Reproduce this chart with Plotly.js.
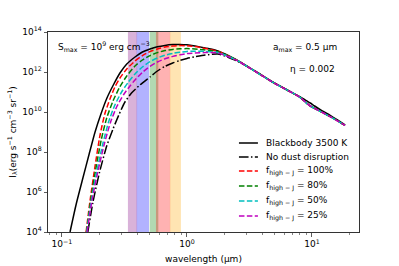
<!DOCTYPE html>
<html><head><meta charset="utf-8">
<script src="https://cdn.plot.ly/plotly-3.0.1.min.js"></script>
<style>html,body{margin:0;padding:0;background:#fff}#chart{width:399px;height:266px}</style>
</head><body><div id="chart"></div>
<script>
// ---- data (wavelength in micron, log10 of I_lambda) ----
const bbWl  = [0.116,0.13,0.147,0.165,0.184,0.205,0.229,0.26,0.291,0.33,0.384,0.44,0.506,0.58,0.667,0.77,0.879,1.0,1.159,1.4,1.77,2.5,3.5,5,6.5,8,9,9.7,10.5,12,14,16,18.4];
const bbLog = [4.0,5.4,6.7,7.9,9.0,9.9,10.7,11.4,11.95,12.4,12.75,13.0,13.15,13.26,13.33,13.37,13.38,13.36,13.3,13.2,13.05,12.6,12.05,11.45,11.07,10.77,10.57,10.45,10.3,10.07,9.83,9.6,9.35];

const tailWl  = [3.5,5,6.5,8,9,9.7,10.5,12,14,16,18.4];
const tailLog = [12.04,11.44,11.06,10.74,10.46,10.3,10.18,9.99,9.77,9.56,9.33];

const noDisWl  = [0.161,0.177,0.2,0.228,0.256,0.285,0.319,0.36,0.42,0.506,0.58,0.667,0.77,0.879,1.0,1.159,1.4,1.77,2.5];
const noDisLog = [4.0,5.5,7.0,8.3,9.15,9.85,10.5,10.95,11.35,11.75,12.05,12.28,12.45,12.58,12.68,12.76,12.85,12.9,12.56];

const f100Wl  = [0.156,0.168,0.184,0.201,0.22,0.242,0.265,0.291,0.33,0.384,0.44,0.506,0.58,0.667,0.77,0.879,1.0,1.159,1.4,1.77,2.5];
const f100Log = [4.0,5.6,7.3,8.8,9.9,10.65,11.25,11.7,12.15,12.55,12.82,13.02,13.15,13.25,13.3,13.32,13.31,13.27,13.18,13.04,12.6];

const f80Wl  = [0.157,0.17,0.187,0.206,0.228,0.256,0.29,0.33,0.384,0.44,0.506,0.58,0.667,0.77,0.879,1.0,1.159,1.4,1.77,2.5];
const f80Log = [4.0,5.6,7.2,8.6,9.7,10.55,11.25,11.8,12.3,12.6,12.82,12.97,13.07,13.13,13.16,13.17,13.15,13.1,13.01,12.6];

const f50Wl  = [0.158,0.172,0.191,0.212,0.236,0.265,0.3,0.34,0.384,0.44,0.506,0.58,0.667,0.77,0.879,1.0,1.159,1.4,1.77,2.5];
const f50Log = [4.0,5.6,7.1,8.4,9.5,10.35,11.0,11.5,11.9,12.25,12.52,12.7,12.84,12.93,12.99,13.03,13.04,13.03,12.98,12.59];

const f25Wl  = [0.159,0.174,0.195,0.218,0.245,0.276,0.31,0.35,0.384,0.44,0.506,0.58,0.667,0.77,0.879,1.0,1.159,1.4,1.77,2.5];
const f25Log = [4.0,5.6,7.1,8.4,9.5,10.3,10.85,11.3,11.6,11.98,12.28,12.5,12.66,12.78,12.86,12.92,12.95,12.97,12.95,12.58];

// photometric bands (micron)
const bandLo     = [0.337,0.396,0.503,0.565,0.73];
const bandHi     = [0.399,0.497,0.59,0.735,0.895];
const bandColors = ['rgba(128,0,128,0.3)','rgba(0,0,255,0.3)','rgba(0,128,0,0.3)','rgba(255,0,0,0.3)','rgba(255,165,0,0.3)'];

const seriesNames = ['Blackbody 3500 K','No dust disruption','f<sub>high − J</sub> = 100%','f<sub>high − J</sub> = 80%','f<sub>high − J</sub> = 50%','f<sub>high − J</sub> = 25%'];
const seriesColors = ['#000000','#000000','#ff0000','#008000','#00bfbf','#bf00bf'];
const seriesDash = ['solid','9.6px,2.4px,1.5px,2.4px','5.5px,2.4px','5.5px,2.4px','5.5px,2.4px','5.5px,2.4px'];

const xTickVals = [0.1,1,10];
const xTickText = ['10<sup>−1</sup>','10<sup>0</sup>','10<sup>1</sup>'];
const yTickVals = [1e4,1e6,1e8,1e10,1e12,1e14];
const yTickText = ['10<sup>4</sup>','10<sup>6</sup>','10<sup>8</sup>','10<sup>10</sup>','10<sup>12</sup>','10<sup>14</sup>'];
const xMinor = [0.08,0.09,0.2,0.3,0.4,0.5,0.6,0.7,0.8,0.9,2,3,4,5,6,7,8,9,20];

// ---- build ----
const pw = v => Math.pow(10, v);
const withTail = (wl, lg) => [wl.concat(tailWl), lg.concat(tailLog).map(pw)];

const sets = [
  [bbWl, bbLog.map(pw)],
  withTail(noDisWl, noDisLog),
  withTail(f100Wl, f100Log),
  withTail(f80Wl, f80Log),
  withTail(f50Wl, f50Log),
  withTail(f25Wl, f25Log)
];
const traces = sets.map((s, i) => ({
  x: s[0], y: s[1], type: 'scatter', mode: 'lines', name: seriesNames[i],
  line: {color: seriesColors[i], width: 1.5, dash: seriesDash[i], shape: 'spline', smoothing: 0.6},
  hoverinfo: 'skip'
}));

const shapes = bandLo.map((lo, i) => ({
  type: 'rect', xref: 'x', yref: 'paper', x0: lo, x1: bandHi[i], y0: 0, y1: 1,
  fillcolor: bandColors[i], line: {width: 0}, layer: 'below'
}));

// legend (drawn manually to match compact spacing)
const legRows = [0.445, 0.375, 0.305, 0.23, 0.155, 0.08];
const annotations = [];
legRows.forEach((yy, i) => {
  shapes.push({type: 'line', xref: 'paper', yref: 'paper', x0: 0.614, x1: 0.675, y0: yy, y1: yy,
    line: {color: seriesColors[i], width: 1.5, dash: seriesDash[i]}});
  annotations.push({xref: 'paper', yref: 'paper', x: 0.695, y: yy, xanchor: 'left', yanchor: 'middle',
    text: seriesNames[i], showarrow: false, font: {size: 9}});
});
annotations.push({xref: 'paper', yref: 'paper', x: 0.027, y: 0.925, xanchor: 'left', yanchor: 'middle',
  text: 'S<sub>max</sub> = 10<sup>9</sup> erg cm<sup>−3</sup>', showarrow: false, font: {size: 9}});
annotations.push({xref: 'paper', yref: 'paper', x: 0.935, y: 0.92, xanchor: 'right', yanchor: 'middle',
  text: 'a<sub>max</sub> = 0.5 μm', showarrow: false, font: {size: 9}});
annotations.push({xref: 'paper', yref: 'paper', x: 0.928, y: 0.815, xanchor: 'right', yanchor: 'middle',
  text: 'η = 0.002', showarrow: false, font: {size: 9}});

const axisCommon = {
  showgrid: false, zeroline: false, showline: true, linecolor: '#333', linewidth: 1, mirror: true,
  ticks: 'outside', ticklen: 3.5, tickwidth: 0.8, tickcolor: '#333', tickfont: {size: 9}
};

const layout = {
  width: 399, height: 266,
  margin: {l: 48, r: 40, t: 32, b: 34},
  paper_bgcolor: '#fff', plot_bgcolor: '#fff',
  font: {family: 'DejaVu Sans, sans-serif', size: 9, color: '#000'},
  showlegend: false,
  xaxis: Object.assign({}, axisCommon, {
    type: 'log', range: [Math.log10(0.0773), Math.log10(23.8)],
    tickvals: xTickVals, ticktext: xTickText,
    minor: {tickvals: xMinor, ticks: 'outside', ticklen: 2, tickwidth: 0.6, tickcolor: '#333', showgrid: false},
    title: {text: 'wavelength (μm)', font: {size: 9}, standoff: 7}
  }),
  yaxis: Object.assign({}, axisCommon, {
    type: 'log', range: [4, 14],
    tickvals: yTickVals, ticktext: yTickText,
    title: {text: 'I<sub>λ</sub>(erg s<sup>−1</sup> cm<sup>−3</sup> sr<sup>−1</sup>)', font: {size: 9}, standoff: 4}
  }),
  shapes: shapes,
  annotations: annotations
};

Plotly.newPlot('chart', traces, layout, {displayModeBar: false, staticPlot: true});
</script></body></html>
